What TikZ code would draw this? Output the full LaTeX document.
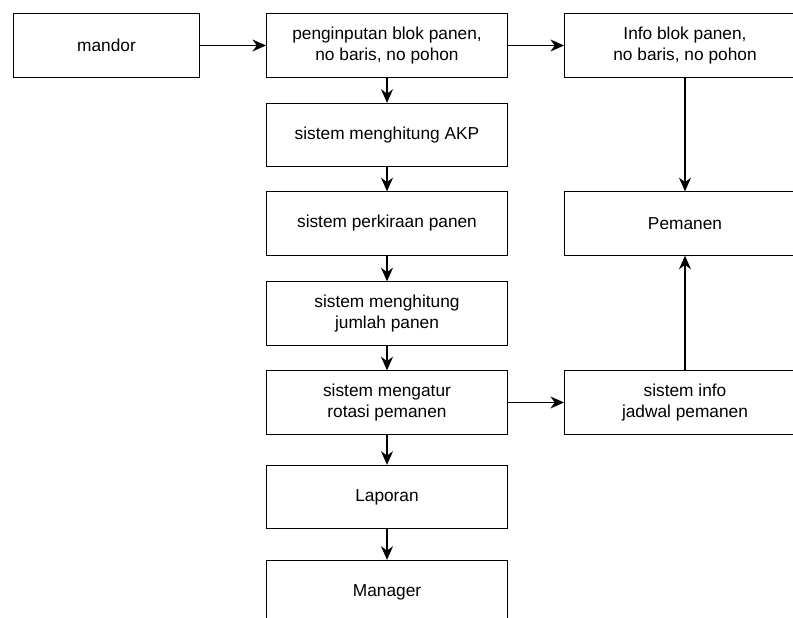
\documentclass[tikz,border=0pt]{standalone}
\usepackage{fontspec}
\setmainfont{Liberation Sans}
\usetikzlibrary{arrows.meta}
\tikzset{
	box/.style={draw=black, line width=0.8pt, minimum height=1.58cm, inner sep=0pt, align=center, font=\fontsize{12.3}{14.7}\selectfont},
	widebox/.style={box, minimum width=6.02cm},
	flow/.style={line width=0.8pt, -{Stealth[length=3.4mm,width=3mm,inset=1.1mm]}}
}

\begin{document}
\begin{tikzpicture}[x=0.025cm, y=-0.025cm]
			%%%%% START %%%%%
			
			\useasboundingbox (0,0) rectangle (793,617);
			\clip (0,0) rectangle (793,617);
			
			\node[box, minimum width=4.67cm] (mandor) at (106.5,45.5) {mandor};
			
			\node[widebox] (input) at (387,45.5) {penginputan blok panen,\\no baris, no pohon};
			\node[widebox] (akp) at (387,135) {sistem menghitung AKP};
			\node[widebox] (perkiraan) at (387,223.5) {sistem perkiraan panen};
			\node[widebox] (jumlah) at (387,313.5) {sistem menghitung\\jumlah panen};
			\node[widebox] (rotasi) at (387,402.5) {sistem mengatur\\rotasi pemanen};
			\node[widebox] (laporan) at (387,497) {Laporan};
			\node[widebox] (manager) at (387,592) {Manager};
			
			\node[widebox] (info) at (685,45.5) {Info blok panen,\\no baris, no pohon};
			\node[widebox] (pemanen) at (685,223.5) {Pemanen};
			\node[widebox] (jadwal) at (685,402.5) {sistem info\\jadwal pemanen};
			
			\draw[flow] (mandor) -- (input);
			\draw[flow] (input) -- (info);
			\draw[flow] (input) -- (akp);
			\draw[flow] (akp) -- (perkiraan);
			\draw[flow] (perkiraan) -- (jumlah);
			\draw[flow] (jumlah) -- (rotasi);
			\draw[flow] (rotasi) -- (laporan);
			\draw[flow] (laporan) -- (manager);
			\draw[flow] (rotasi) -- (jadwal);
			\draw[flow] (info) -- (pemanen);
			\draw[flow] (jadwal) -- (pemanen);
			
			%%%%% END %%%%%
\end{tikzpicture}
\end{document}
